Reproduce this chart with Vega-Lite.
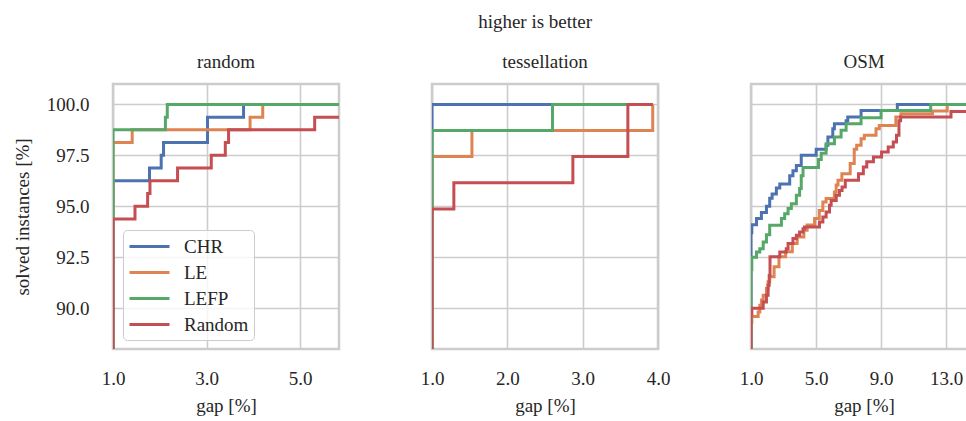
{
  "$schema": "https://vega.github.io/schema/vega-lite/v6.json",
  "background": "white",
  "padding": {"left": 12, "top": 12, "right": 0, "bottom": 4},
  "title": {"text": "higher is better", "fontSize": 19, "font": "Liberation Serif", "fontWeight": "normal", "color": "#262626", "anchor": "middle", "dx": 40, "offset": 20},
  "spacing": 93,
  "bounds": "flush",
  "datasets": {
    "random": [
      {"method": "CHR", "gap": 0.99, "solved": 80}, {"method": "CHR", "gap": 1, "solved": 96.25}, {"method": "CHR", "gap": 1.78, "solved": 96.875}, {"method": "CHR", "gap": 2.03, "solved": 97.5}, {"method": "CHR", "gap": 2.08, "solved": 98.125}, {"method": "CHR", "gap": 3.02, "solved": 99.375}, {"method": "CHR", "gap": 3.79, "solved": 100}, {"method": "CHR", "gap": 5.83, "solved": 100},
      {"method": "LE", "gap": 0.99, "solved": 80}, {"method": "LE", "gap": 1, "solved": 98.125}, {"method": "LE", "gap": 1.41, "solved": 98.75}, {"method": "LE", "gap": 3.93, "solved": 99.375}, {"method": "LE", "gap": 4.2, "solved": 100}, {"method": "LE", "gap": 5.83, "solved": 100},
      {"method": "LEFP", "gap": 0.99, "solved": 80}, {"method": "LEFP", "gap": 1, "solved": 98.75}, {"method": "LEFP", "gap": 2.12, "solved": 99.375}, {"method": "LEFP", "gap": 2.16, "solved": 100}, {"method": "LEFP", "gap": 5.83, "solved": 100},
      {"method": "Random", "gap": 0.99, "solved": 80}, {"method": "Random", "gap": 1, "solved": 94.375}, {"method": "Random", "gap": 1.47, "solved": 95}, {"method": "Random", "gap": 1.74, "solved": 95.625}, {"method": "Random", "gap": 1.79, "solved": 96.25}, {"method": "Random", "gap": 2.38, "solved": 96.875}, {"method": "Random", "gap": 3.1, "solved": 97.5}, {"method": "Random", "gap": 3.4, "solved": 98.125}, {"method": "Random", "gap": 3.47, "solved": 98.75}, {"method": "Random", "gap": 5.31, "solved": 99.375}, {"method": "Random", "gap": 5.83, "solved": 99.375}
    ],
    "tess": [
      {"method": "CHR", "gap": 0.99, "solved": 80}, {"method": "CHR", "gap": 1, "solved": 100}, {"method": "CHR", "gap": 3.93, "solved": 100},
      {"method": "LE", "gap": 0.99, "solved": 80}, {"method": "LE", "gap": 1, "solved": 97.44}, {"method": "LE", "gap": 1.53, "solved": 98.72}, {"method": "LE", "gap": 3.93, "solved": 100},
      {"method": "LEFP", "gap": 0.99, "solved": 80}, {"method": "LEFP", "gap": 1, "solved": 98.72}, {"method": "LEFP", "gap": 2.6, "solved": 100}, {"method": "LEFP", "gap": 3.93, "solved": 100},
      {"method": "Random", "gap": 0.99, "solved": 80}, {"method": "Random", "gap": 1, "solved": 94.87}, {"method": "Random", "gap": 1.29, "solved": 96.15}, {"method": "Random", "gap": 2.87, "solved": 97.44}, {"method": "Random", "gap": 3.6, "solved": 100}, {"method": "Random", "gap": 3.93, "solved": 100}
    ],
    "osm": [
      {"method": "CHR", "gap": 0.99, "solved": 80}, {"method": "CHR", "gap": 1, "solved": 93.7}, {"method": "CHR", "gap": 1.05, "solved": 94.1}, {"method": "CHR", "gap": 1.34, "solved": 94.4}, {"method": "CHR", "gap": 1.64, "solved": 94.7}, {"method": "CHR", "gap": 1.95, "solved": 95.0}, {"method": "CHR", "gap": 2.15, "solved": 95.4}, {"method": "CHR", "gap": 2.3, "solved": 95.6}, {"method": "CHR", "gap": 2.56, "solved": 95.9}, {"method": "CHR", "gap": 2.77, "solved": 96.1}, {"method": "CHR", "gap": 3.38, "solved": 96.5}, {"method": "CHR", "gap": 3.58, "solved": 96.75}, {"method": "CHR", "gap": 3.79, "solved": 97.0}, {"method": "CHR", "gap": 4.09, "solved": 97.5}, {"method": "CHR", "gap": 5.01, "solved": 97.8}, {"method": "CHR", "gap": 5.62, "solved": 98.0}, {"method": "CHR", "gap": 5.73, "solved": 98.4}, {"method": "CHR", "gap": 6.03, "solved": 98.8}, {"method": "CHR", "gap": 6.13, "solved": 99.05}, {"method": "CHR", "gap": 6.85, "solved": 99.2}, {"method": "CHR", "gap": 6.95, "solved": 99.38}, {"method": "CHR", "gap": 7.77, "solved": 99.7}, {"method": "CHR", "gap": 10.0, "solved": 100}, {"method": "CHR", "gap": 14.9, "solved": 100},
      {"method": "LE", "gap": 0.99, "solved": 80}, {"method": "LE", "gap": 1, "solved": 89.3}, {"method": "LE", "gap": 1.05, "solved": 89.6}, {"method": "LE", "gap": 1.44, "solved": 89.82}, {"method": "LE", "gap": 1.54, "solved": 90.15}, {"method": "LE", "gap": 1.65, "solved": 90.4}, {"method": "LE", "gap": 1.75, "solved": 90.64}, {"method": "LE", "gap": 1.95, "solved": 90.97}, {"method": "LE", "gap": 2.05, "solved": 91.3}, {"method": "LE", "gap": 2.15, "solved": 91.55}, {"method": "LE", "gap": 2.42, "solved": 92.04}, {"method": "LE", "gap": 2.72, "solved": 92.53}, {"method": "LE", "gap": 3.13, "solved": 92.77}, {"method": "LE", "gap": 3.54, "solved": 93.18}, {"method": "LE", "gap": 3.84, "solved": 93.5}, {"method": "LE", "gap": 4.25, "solved": 93.83}, {"method": "LE", "gap": 4.45, "solved": 94.08}, {"method": "LE", "gap": 4.91, "solved": 94.4}, {"method": "LE", "gap": 5.2, "solved": 94.8}, {"method": "LE", "gap": 5.42, "solved": 95.21}, {"method": "LE", "gap": 5.62, "solved": 95.38}, {"method": "LE", "gap": 6.13, "solved": 95.7}, {"method": "LE", "gap": 6.24, "solved": 96.04}, {"method": "LE", "gap": 6.35, "solved": 96.28}, {"method": "LE", "gap": 6.59, "solved": 96.6}, {"method": "LE", "gap": 7.1, "solved": 97.1}, {"method": "LE", "gap": 7.35, "solved": 97.8}, {"method": "LE", "gap": 7.5, "solved": 97.99}, {"method": "LE", "gap": 7.77, "solved": 98.32}, {"method": "LE", "gap": 7.97, "solved": 98.48}, {"method": "LE", "gap": 8.69, "solved": 98.81}, {"method": "LE", "gap": 8.89, "solved": 98.97}, {"method": "LE", "gap": 9.91, "solved": 99.38}, {"method": "LE", "gap": 10.22, "solved": 99.54}, {"method": "LE", "gap": 12.16, "solved": 99.67}, {"method": "LE", "gap": 13.07, "solved": 100}, {"method": "LE", "gap": 14.9, "solved": 100},
      {"method": "LEFP", "gap": 0.99, "solved": 80}, {"method": "LEFP", "gap": 1, "solved": 91.9}, {"method": "LEFP", "gap": 1.05, "solved": 92.5}, {"method": "LEFP", "gap": 1.34, "solved": 92.76}, {"method": "LEFP", "gap": 1.54, "solved": 92.92}, {"method": "LEFP", "gap": 1.75, "solved": 93.25}, {"method": "LEFP", "gap": 1.95, "solved": 93.6}, {"method": "LEFP", "gap": 2.15, "solved": 94.07}, {"method": "LEFP", "gap": 2.87, "solved": 94.4}, {"method": "LEFP", "gap": 3.07, "solved": 94.64}, {"method": "LEFP", "gap": 3.28, "solved": 94.89}, {"method": "LEFP", "gap": 3.48, "solved": 95.13}, {"method": "LEFP", "gap": 3.79, "solved": 95.54}, {"method": "LEFP", "gap": 3.99, "solved": 95.87}, {"method": "LEFP", "gap": 4.09, "solved": 96.5}, {"method": "LEFP", "gap": 4.2, "solved": 96.9}, {"method": "LEFP", "gap": 5.15, "solved": 97.3}, {"method": "LEFP", "gap": 5.32, "solved": 97.6}, {"method": "LEFP", "gap": 5.62, "solved": 98.07}, {"method": "LEFP", "gap": 6.13, "solved": 98.4}, {"method": "LEFP", "gap": 6.54, "solved": 98.73}, {"method": "LEFP", "gap": 6.85, "solved": 99.05}, {"method": "LEFP", "gap": 7.77, "solved": 99.34}, {"method": "LEFP", "gap": 9.0, "solved": 99.7}, {"method": "LEFP", "gap": 12.05, "solved": 100}, {"method": "LEFP", "gap": 14.9, "solved": 100},
      {"method": "Random", "gap": 0.99, "solved": 80}, {"method": "Random", "gap": 1, "solved": 89.7}, {"method": "Random", "gap": 1.05, "solved": 90.0}, {"method": "Random", "gap": 1.75, "solved": 90.31}, {"method": "Random", "gap": 1.95, "solved": 90.64}, {"method": "Random", "gap": 2.05, "solved": 91.13}, {"method": "Random", "gap": 2.12, "solved": 91.6}, {"method": "Random", "gap": 2.17, "solved": 92.52}, {"method": "Random", "gap": 2.77, "solved": 92.76}, {"method": "Random", "gap": 3.17, "solved": 92.92}, {"method": "Random", "gap": 3.28, "solved": 93.17}, {"method": "Random", "gap": 3.58, "solved": 93.42}, {"method": "Random", "gap": 3.79, "solved": 93.58}, {"method": "Random", "gap": 3.99, "solved": 93.74}, {"method": "Random", "gap": 4.2, "solved": 93.9}, {"method": "Random", "gap": 4.29, "solved": 93.99}, {"method": "Random", "gap": 5.21, "solved": 94.23}, {"method": "Random", "gap": 5.42, "solved": 94.48}, {"method": "Random", "gap": 5.62, "solved": 94.72}, {"method": "Random", "gap": 5.83, "solved": 95.05}, {"method": "Random", "gap": 5.93, "solved": 95.29}, {"method": "Random", "gap": 6.24, "solved": 95.54}, {"method": "Random", "gap": 6.44, "solved": 95.78}, {"method": "Random", "gap": 6.6, "solved": 95.95}, {"method": "Random", "gap": 6.8, "solved": 96.28}, {"method": "Random", "gap": 7.61, "solved": 96.6}, {"method": "Random", "gap": 7.91, "solved": 96.93}, {"method": "Random", "gap": 8.12, "solved": 97.18}, {"method": "Random", "gap": 8.53, "solved": 97.42}, {"method": "Random", "gap": 9.03, "solved": 97.67}, {"method": "Random", "gap": 9.44, "solved": 97.91}, {"method": "Random", "gap": 9.75, "solved": 98.16}, {"method": "Random", "gap": 9.95, "solved": 98.48}, {"method": "Random", "gap": 10.1, "solved": 99.2}, {"method": "Random", "gap": 10.2, "solved": 99.38}, {"method": "Random", "gap": 13.3, "solved": 99.65}, {"method": "Random", "gap": 14.9, "solved": 99.65}
    ]
  },
  "resolve": {"scale": {"x": "independent", "y": "shared", "color": "shared"}, "legend": {"color": "independent"}},
  "hconcat": [
    {
      "width": 226, "height": 265,
      "title": {"text": "random"},
      "data": {"name": "random"},
      "mark": {"type": "line", "interpolate": "step-after", "strokeWidth": 3, "clip": true},
      "encoding": {
        "x": {"field": "gap", "type": "quantitative", "scale": {"domain": [1, 5.83], "nice": false, "zero": false}, "axis": {"values": [1, 3, 5], "format": ".1f", "title": "gap [%]"}},
        "y": {"field": "solved", "type": "quantitative", "scale": {"domain": [88, 101], "nice": false, "zero": false}, "axis": {"values": [90, 92.5, 95, 97.5, 100], "format": ".1f", "title": "solved instances [%]"}},
        "color": {"field": "method", "type": "nominal", "scale": {"domain": ["CHR", "LE", "LEFP", "Random"], "range": ["#4c72b0", "#dd8452", "#55a868", "#c44e52"]},
          "legend": {"title": null, "orient": "none", "legendX": 10, "legendY": 146, "symbolType": "M-2,0H2", "symbolSize": 400, "symbolStrokeWidth": 3, "symbolOffset": 10, "labelOffset": 23, "rowPadding": 4, "padding": 5, "fillColor": "rgba(255,255,255,0.8)", "strokeColor": "#cccccc", "cornerRadius": 4, "labelFont": "Liberation Serif", "labelFontSize": 19, "labelColor": "#262626"}}
      }
    },
    {
      "width": 226, "height": 265,
      "title": {"text": "tessellation"},
      "data": {"name": "tess"},
      "mark": {"type": "line", "interpolate": "step-after", "strokeWidth": 3, "clip": true},
      "encoding": {
        "x": {"field": "gap", "type": "quantitative", "scale": {"domain": [1, 4], "nice": false, "zero": false}, "axis": {"values": [1, 2, 3, 4], "format": ".1f", "title": "gap [%]"}},
        "y": {"field": "solved", "type": "quantitative", "scale": {"domain": [88, 101], "nice": false, "zero": false}, "axis": {"values": [90, 92.5, 95, 97.5, 100], "labels": false, "title": null}},
        "color": {"field": "method", "type": "nominal", "legend": null}
      }
    },
    {
      "width": 226, "height": 265,
      "title": {"text": "OSM"},
      "data": {"name": "osm"},
      "mark": {"type": "line", "interpolate": "step-after", "strokeWidth": 3, "clip": true},
      "encoding": {
        "x": {"field": "gap", "type": "quantitative", "scale": {"domain": [1, 14.9], "nice": false, "zero": false}, "axis": {"values": [1, 5, 9, 13], "format": ".1f", "title": "gap [%]"}},
        "y": {"field": "solved", "type": "quantitative", "scale": {"domain": [88, 101], "nice": false, "zero": false}, "axis": {"values": [90, 92.5, 95, 97.5, 100], "labels": false, "title": null}},
        "color": {"field": "method", "type": "nominal", "legend": null}
      }
    }
  ],
  "config": {
    "font": "Liberation Serif",
    "view": {"stroke": "#cccccc", "strokeWidth": 2.5},
    "axis": {"domain": false, "ticks": false, "grid": true, "gridColor": "#cccccc", "gridWidth": 1.6, "labelFont": "Liberation Serif", "labelFontSize": 19, "labelColor": "#262626", "titleFont": "Liberation Serif", "titleFontSize": 19, "titleFontWeight": "normal", "titleColor": "#262626"},
    "axisX": {"labelPadding": 20, "titlePadding": 8, "labelFlush": false},
    "axisY": {"labelPadding": 24, "titlePadding": 14},
    "title": {"font": "Liberation Serif", "fontSize": 19, "fontWeight": "normal", "color": "#262626", "offset": 12}
  }
}
